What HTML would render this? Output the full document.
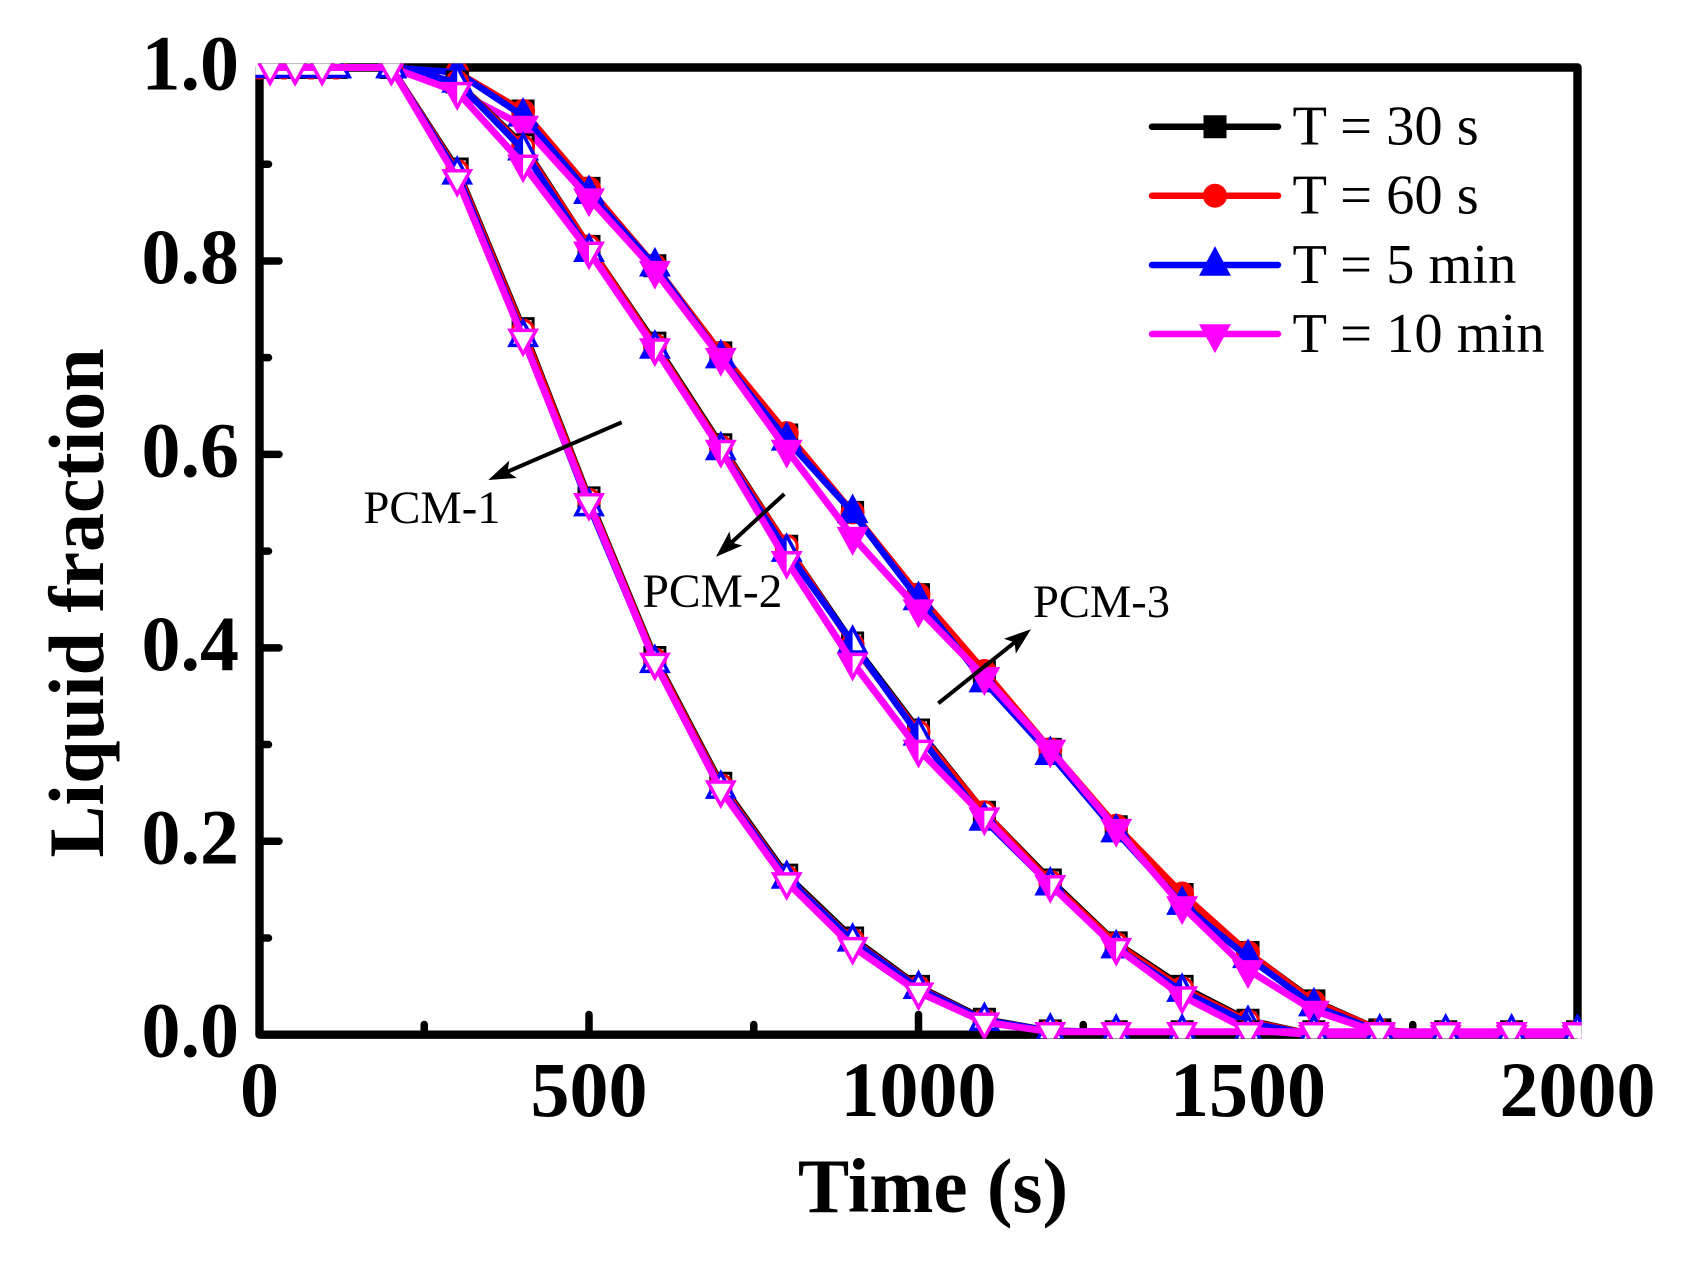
<!DOCTYPE html>
<html>
<head>
<meta charset="utf-8">
<title>Liquid fraction vs time</title>
<style>
html,body{margin:0;padding:0;background:#fff;}
svg{display:block;}
text{font-family:"Liberation Serif",serif;fill:#000;}
.b{font-weight:bold;}
</style>
</head>
<body>
<svg id="chart" xmlns="http://www.w3.org/2000/svg" width="1681" height="1266" viewBox="0 0 1681 1266">
<defs><clipPath id="plotClip"><rect x="255.5" y="63.5" width="1326" height="975"/></clipPath></defs>
<g id="axes"></g>
<g id="series"></g>
<text class="b" x="933" y="1212" font-size="77" text-anchor="middle">Time (s)</text>
<text class="b" transform="translate(103,603) rotate(-90)" font-size="78" text-anchor="middle">Liquid fraction</text>
<g id="legend"></g>
<g id="notes">
<text x="363.5" y="523" font-size="46.5">PCM-1</text>
<text x="642.5" y="607" font-size="47.5">PCM-2</text>
<text x="1033" y="617" font-size="46.5">PCM-3</text>
</g>
</svg>
<script>
const timesEarly = [0,37,78,116,200,300,400,500,600,700,800,900,1000,1100,1200,1300,1400,1500,1600,1700,1800,1900,2000];
const timesOffset = [16,54,95,200,300,400,500,600,700,800,900,1000,1100,1200,1300,1400,1500,1600,1700,1800,1900,2000];

const pcm1T30 = [1,1,1,1,1,0.895,0.73,0.555,0.39,0.26,0.165,0.1,0.05,0.016,0.004,0.003,0.003,0.003,0.003,0.003,0.003,0.003,0.003];
const pcm1T60 = [1,1,1,1,1,0.893,0.728,0.553,0.388,0.258,0.163,0.098,0.049,0.015,0.004,0.003,0.003,0.003,0.003,0.003,0.003,0.003,0.003];
const pcm1T5m = [1,1,1,1,1,0.89,0.722,0.547,0.385,0.255,0.162,0.097,0.048,0.015,0.004,0.003,0.003,0.003,0.003,0.003,0.003,0.003,0.003];
const pcm1T10m = [1,1,1,1,0.885,0.72,0.55,0.385,0.253,0.158,0.091,0.044,0.013,0.003,0.003,0.003,0.003,0.003,0.003,0.003,0.003,0.003];

const pcm2T30 = [1,1,1,1,1,0.985,0.92,0.815,0.715,0.61,0.505,0.405,0.315,0.23,0.16,0.095,0.05,0.015,0,0,0,0,0];
const pcm2T60 = [1,1,1,1,1,0.985,0.918,0.815,0.713,0.608,0.505,0.403,0.313,0.23,0.158,0.094,0.048,0.014,0,0,0,0,0];
const pcm2T5m = [1,1,1,1,1,0.985,0.915,0.81,0.71,0.605,0.5,0.405,0.31,0.222,0.155,0.09,0.045,0.012,0,0,0,0,0];
const pcm2T10m = [1,1,1,1,0.975,0.9,0.81,0.71,0.605,0.49,0.385,0.295,0.225,0.155,0.09,0.04,0.005,0,0,0,0,0];

const pcm3T30 = [1,1,1,1,1,0.995,0.955,0.875,0.795,0.705,0.62,0.54,0.455,0.375,0.295,0.215,0.145,0.085,0.035,0.005,0,0,0];
const pcm3T60 = [1,1,1,1,1,0.995,0.955,0.875,0.795,0.705,0.622,0.54,0.455,0.376,0.295,0.216,0.146,0.085,0.034,0.005,0,0,0];
const pcm3T5m = [1,1,1,1,1,0.995,0.95,0.87,0.795,0.7,0.615,0.54,0.45,0.365,0.29,0.21,0.135,0.08,0.03,0.003,0,0,0];
const pcm3T10m = [1,1,1,1,0.975,0.94,0.865,0.79,0.7,0.605,0.515,0.44,0.37,0.295,0.213,0.133,0.067,0.025,0.002,0,0,0];

const xMajorTicks = [0,500,1000,1500,2000];
const xMinorTicks = [250,750,1250,1750];
const yMajorTicks = [0,0.2,0.4,0.6,0.8,1.0];
const yMinorTicks = [0.1,0.3,0.5,0.7,0.9];
const legendLabels = ['T = 30 s','T = 60 s','T = 5 min','T = 10 min'];
const seriesColors = ['#000000','#ff0000','#0000ff','#ff00ff'];
const seriesShapes = ['square','circle','up','down'];

const NS = 'http://www.w3.org/2000/svg';
const X0 = 259.5, X1 = 1577.5, Y0 = 1034.7, Y1 = 67.5;
function xScale(t){ return X0 + (t/2000)*(X1-X0); }
function yScale(v){ return Y0 - v*(Y0-Y1); }
function mk(tag, parent, attrs){
  const el = document.createElementNS(NS, tag);
  for (const k in attrs) el.setAttribute(k, attrs[k]);
  parent.appendChild(el);
  return el;
}

const axes = document.getElementById('axes');
const frame = mk('rect', axes, {x:X0,y:Y1,width:X1-X0,height:Y0-Y1,fill:'#fff',stroke:'#000','stroke-width':8.4,'stroke-linejoin':'round'});



xMajorTicks.forEach(function(t){
  const tk = mk('line', axes, {x1:xScale(t),x2:xScale(t),y1:Y0,y2:1014.5,stroke:'#000','stroke-width':7.5,'stroke-linecap':'round'});
  
  
  const lb = mk('text', axes, {x:xScale(t),y:1116,'font-size':78,'text-anchor':'middle','class':'b'});
  lb.textContent = String(t);
  
  
});
xMinorTicks.forEach(function(t){
  const tk = mk('line', axes, {x1:xScale(t),x2:xScale(t),y1:Y0,y2:1024.5,stroke:'#000','stroke-width':7.5,'stroke-linecap':'round'});
  
  
});
yMajorTicks.forEach(function(v){
  const tk = mk('line', axes, {x1:X0,x2:279,y1:yScale(v),y2:yScale(v),stroke:'#000','stroke-width':7.5,'stroke-linecap':'round'});
  
  
  const lb = mk('text', axes, {x:239,y:yScale(v)+22,'font-size':78,'text-anchor':'end','class':'b'});
  lb.textContent = v.toFixed(1);
  
  
});
yMinorTicks.forEach(function(v){
  const tk = mk('line', axes, {x1:X0,x2:268.5,y1:yScale(v),y2:yScale(v),stroke:'#000','stroke-width':7.5,'stroke-linecap':'round'});
  
  
});

function shapePoints(shape){
  if (shape === 'up') return [[-13,9],[0,-15.2],[13,9]];
  if (shape === 'down') return [[-13,-8],[13,-8],[0,15.5]];
  return [[-10,-10],[10,-10],[10,10],[-10,10]];
}
function marker(parent, shape, cx, cy, color, mode){
  const g = mk('g', parent, {transform:'translate('+cx+','+cy+')'});
  const sw = shape === 'circle' || shape === 'square' ? 3 : 3.5;
  const base = mode === 'filled' ? color : '#fff';
  if (shape === 'circle') {
    mk('circle', g, {cx:0,cy:0,r:10.5,fill:base,stroke:color,'stroke-width':sw});
    if (mode === 'half') mk('path', g, {d:'M0,-10.5A10.5,10.5 0 0 0 0,10.5Z',fill:color});
  } else {
    const pts = shapePoints(shape);
    mk('polygon', g, {points:pts.map(function(p){return p.join(',');}).join(' '),fill:base,stroke:color,'stroke-width':sw});
    if (mode === 'half') {
      let half;
      if (shape === 'up') half = '0,-15.2 -13,9 0,9';
      else if (shape === 'down') half = '-13,-8 0,-8 0,15.5';
      else half = '-10,-10 0,-10 0,10 -10,10';
      mk('polygon', g, {points:half,fill:color});
    }
  }
  return g;
}

const seriesRoot = document.getElementById('series');
seriesRoot.setAttribute('clip-path', 'url(#plotClip)');
const groups = [
  {name:'pcm-3', mode:'filled', data:[pcm3T30,pcm3T60,pcm3T5m,pcm3T10m]},
  {name:'pcm-2', mode:'half', data:[pcm2T30,pcm2T60,pcm2T5m,pcm2T10m]},
  {name:'pcm-1', mode:'open', data:[pcm1T30,pcm1T60,pcm1T5m,pcm1T10m]}
];
groups.forEach(function(grp){
  grp.data.forEach(function(vals, i){
    const times = i === 3 ? timesOffset : timesEarly;
    const sg = mk('g', seriesRoot, {});
    
    
    const pts = vals.map(function(v, k){ return xScale(times[k]) + ',' + yScale(v); }).join(' ');
    const ln = mk('polyline', sg, {points:pts,fill:'none',stroke:seriesColors[i],'stroke-width':i === 3 ? 7 : 6.5,'stroke-linejoin':'round'});
    
    
    vals.forEach(function(v, k){
      const m = marker(sg, seriesShapes[i], xScale(times[k]), yScale(v), seriesColors[i], grp.mode);
      
      
    });
  });
});

const legend = document.getElementById('legend');
const legendRows = [126.7,195.7,265,334];
legendLabels.forEach(function(label, i){
  const y = legendRows[i];
  const ln = mk('line', legend, {x1:1152,x2:1278,y1:y,y2:y,stroke:seriesColors[i],'stroke-width':6.5,'stroke-linecap':'round'});
  
  
  const m = marker(legend, seriesShapes[i], 1215, y, seriesColors[i], 'filled');
  
  
  const t = mk('text', legend, {x:1292.5,y:y+18,'font-size':56.5});
  t.textContent = label;
  
  
});

function arrow(name, x1, y1, x2, y2){
  const notes = document.getElementById('notes');
  const g = mk('g', notes, {});
  
  
  const dx = x2-x1, dy = y2-y1, L = Math.hypot(dx,dy), ux = dx/L, uy = dy/L;
  const bx = x2-ux*27, by = y2-uy*27, nx = bx+ux*6, ny = by+uy*6;
  mk('line', g, {x1:x1,y1:y1,x2:nx,y2:ny,stroke:'#000','stroke-width':4});
  mk('polygon', g, {points:[x2,y2,bx-uy*9.5,by+ux*9.5,nx,ny,bx+uy*9.5,by-ux*9.5].join(' '),fill:'#000'});
}
arrow('pcm-1-arrow', 621.7, 422.3, 488.3, 480);
arrow('pcm-2-arrow', 784.3, 494, 716, 556.7);
arrow('pcm-3-arrow', 938.3, 703.3, 1031, 629.3);
</script>
</body>
</html>
